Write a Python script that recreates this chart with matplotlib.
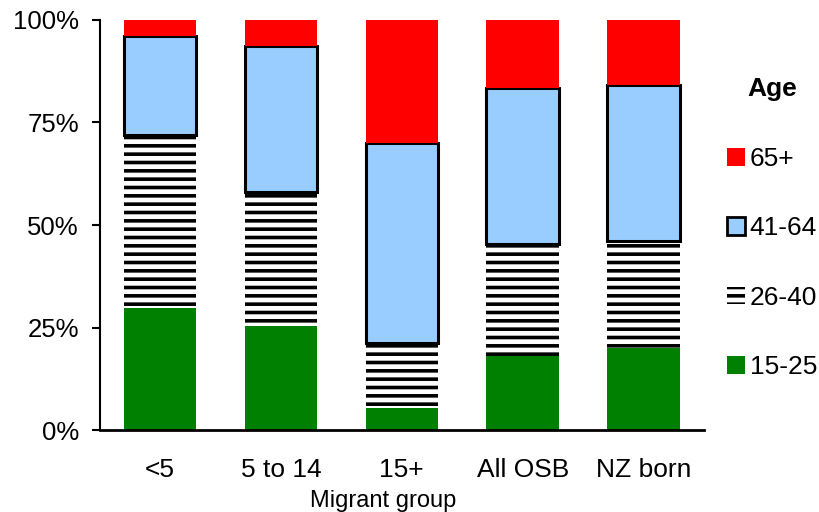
import matplotlib
matplotlib.use('Agg')
import matplotlib.pyplot as plt
import matplotlib.patches as patches
from matplotlib.ticker import FuncFormatter

plt.rcParams['font.family'] = ['Liberation Sans', 'DejaVu Sans']
plt.rcParams['hatch.linewidth'] = 2.6

GROUPS = ['<5', '5 to 14', '15+', 'All OSB', 'NZ born']
AGE_LABELS = ['15-25', '26-40', '41-64', '65+']

# share of each age band (%) per migrant group
AGE_15_25 = [29.8, 25.4, 5.4, 18.0, 20.0]
AGE_26_40 = [42.2, 32.6, 15.8, 27.4, 26.1]
AGE_41_64 = [24.1, 35.7, 48.8, 38.0, 38.0]
AGE_65_UP = [3.9, 6.3, 30.0, 16.6, 15.9]

GREEN = '#008000'
BLUE = '#99ccff'
RED = '#ff0000'


def draw():
    fig = plt.figure(figsize=(8.2, 5.12), dpi=100)
    ax = fig.add_axes([0.1215, 0.16, 0.737, 0.801])
    x = range(len(GROUPS))
    w = 0.6
    bottom = [0.0] * len(GROUPS)

    ax.bar(x, AGE_15_25, w, bottom=bottom, color=GREEN, linewidth=0)
    bottom = [b + v for b, v in zip(bottom, AGE_15_25)]
    ax.bar(x, AGE_26_40, w, bottom=bottom, facecolor='white', edgecolor='black',
           hatch='--', linewidth=0)
    bottom = [b + v for b, v in zip(bottom, AGE_26_40)]
    ax.bar(x, AGE_41_64, w, bottom=bottom, facecolor=BLUE, edgecolor='black',
           linewidth=2.2)
    bottom = [b + v for b, v in zip(bottom, AGE_41_64)]
    ax.bar(x, AGE_65_UP, w, bottom=bottom, color=RED, linewidth=0)

    ax.set_xlim(-0.5, 4.5)
    ax.set_ylim(0, 100)
    ax.set_yticks([0, 25, 50, 75, 100])
    ax.yaxis.set_major_formatter(FuncFormatter(lambda v, p: '%d%%' % v))
    ax.set_xticks(list(x))
    ax.set_xticklabels(GROUPS)
    ax.tick_params(axis='x', length=0, pad=20, labelsize=19)
    ax.tick_params(axis='y', length=6, width=1.5, pad=9, labelsize=18.5)
    for s in ['top', 'right']:
        ax.spines[s].set_visible(False)
    ax.spines['left'].set_linewidth(1.5)
    ax.spines['bottom'].set_linewidth(2)
    ax.set_xlabel('Migrant group', fontsize=17)
    ax.xaxis.set_label_coords(0.469, -0.147)

    handles = [
        patches.Patch(facecolor=RED, linewidth=0),
        patches.Patch(facecolor=BLUE, edgecolor='black', linewidth=2),
        patches.Patch(facecolor='white', edgecolor='black', hatch='--', linewidth=0),
        patches.Patch(facecolor=GREEN, linewidth=0),
    ]
    leg = fig.legend(handles, AGE_LABELS[::-1], loc='upper left',
                     bbox_to_anchor=(0.871, 0.875), frameon=False,
                     fontsize=19, title='Age',
                     title_fontproperties={'weight': 'bold', 'size': 19},
                     handlelength=0.65, handleheight=0.65, handletextpad=0.2,
                     labelspacing=1.72, borderpad=0)
    leg._legend_box.sep = 33

    fig.savefig('out.png', dpi=100)


if __name__ == '__main__':
    draw()
